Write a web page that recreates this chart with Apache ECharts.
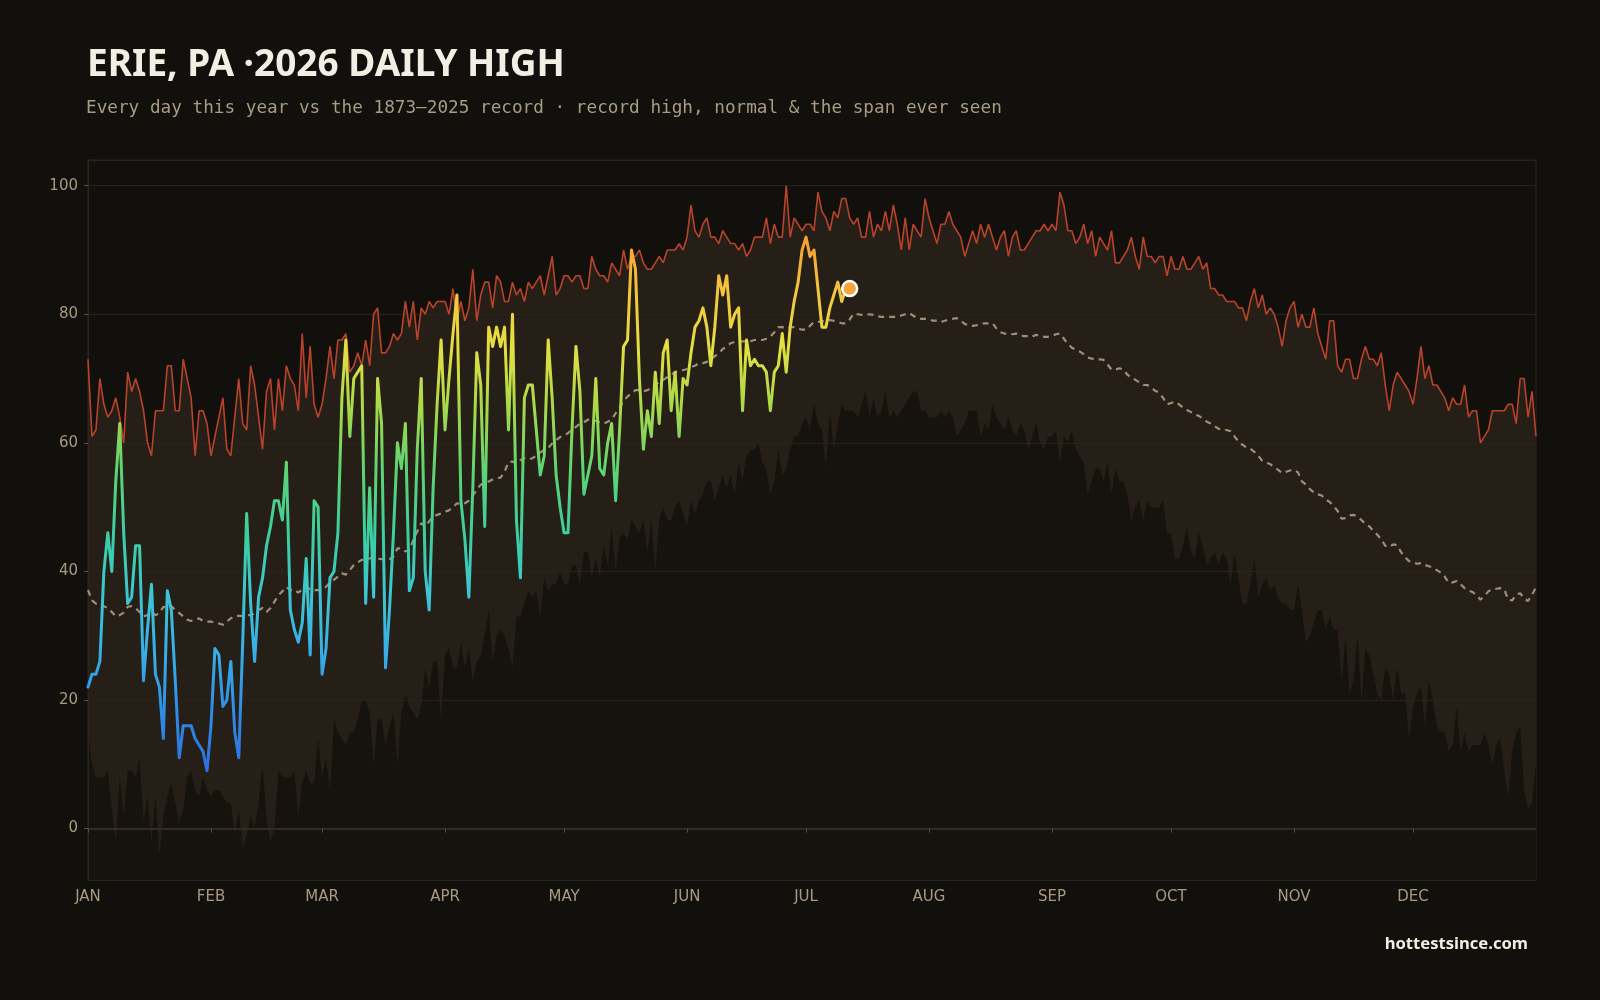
<!DOCTYPE html>
<html>
<head>
<meta charset="utf-8">
<title>Erie, PA 2026 daily high</title>
<script src="https://cdn.jsdelivr.net/npm/echarts@6.0.0/dist/echarts.min.js"></script>
<style>
  html, body { margin: 0; padding: 0; background: #12100c; }
  #chart { width: 1600px; height: 1000px; }
</style>
</head>
<body>
<div id="chart"></div>
<script>
// month labels on the x axis, placed at the first day of each month
const monthNames = ['JAN', 'FEB', 'MAR', 'APR', 'MAY', 'JUN', 'JUL', 'AUG', 'SEP', 'OCT', 'NOV', 'DEC']
const monthStarts = [0, 31, 59, 90, 120, 151, 181, 212, 243, 273, 304, 334]

// record high for each day of the year (1873-2025), day 0 = Jan 1
const recordHigh = [
  73, 61, 62, 70, 66, 64, 65, 67, 64, 60,
  71, 68, 70, 68, 65, 60, 58, 65, 65, 65,
  72, 72, 65, 65, 73, 70, 67, 58, 65, 65,
  63, 58, 61, 64, 67, 59, 58, 64, 70, 63,
  62, 72, 69, 64, 59, 68, 70, 62, 70, 65,
  72, 70, 69, 65, 77, 67, 75, 66, 64, 66,
  70, 75, 70, 76, 76, 77, 71, 72, 74, 72,
  76, 72, 80, 81, 74, 74, 75, 77, 76, 77,
  82, 78, 82, 76, 81, 80, 82, 81, 82, 82,
  82, 80, 84, 79, 82, 79, 81, 87, 79, 83,
  85, 85, 81, 86, 85, 82, 82, 85, 83, 84,
  82, 85, 84, 85, 86, 83, 86, 89, 83, 84,
  86, 86, 85, 86, 86, 84, 84, 89, 87, 86,
  86, 85, 88, 87, 86, 90, 87, 89, 89, 90,
  88, 87, 87, 88, 89, 88, 90, 90, 90, 91,
  90, 92, 97, 93, 92, 94, 95, 92, 92, 91,
  93, 92, 91, 91, 90, 91, 89, 90, 92, 92,
  92, 95, 91, 94, 92, 92, 100, 92, 95, 94,
  93, 94, 94, 93, 99, 96, 95, 93, 96, 95,
  98, 98, 95, 94, 95, 92, 92, 96, 92, 94,
  93, 96, 93, 97, 94, 90, 95, 90, 94, 93,
  92, 98, 95, 93, 91, 94, 94, 96, 94, 93,
  92, 89, 91, 93, 91, 94, 92, 94, 92, 90,
  92, 93, 89, 92, 93, 90, 90, 91, 92, 93,
  93, 94, 93, 94, 93, 99, 97, 93, 93, 91,
  92, 94, 91, 93, 89, 92, 91, 90, 93, 88,
  88, 89, 90, 92, 89, 87, 92, 89, 89, 88,
  89, 89, 86, 89, 87, 87, 89, 87, 87, 88,
  89, 87, 88, 84, 84, 83, 83, 82, 82, 82,
  81, 81, 79, 82, 84, 81, 83, 80, 81, 80,
  78, 75, 79, 81, 82, 78, 80, 78, 78, 81,
  77, 75, 73, 79, 79, 72, 71, 73, 73, 70,
  70, 73, 75, 73, 73, 72, 74, 69, 65, 69,
  71, 70, 69, 68, 66, 70, 75, 70, 72, 69,
  69, 68, 67, 65, 67, 66, 66, 69, 64, 65,
  65, 60, 61, 62, 65, 65, 65, 65, 66, 66,
  63, 70, 70, 64, 68, 61
]

// lowest daily high ever seen
const recordLow = [
  15, 10, 8, 8, 8, 9, 3, -2, 8, 2,
  9, 9, 8, 11, 1, 5, -2, 5, -4, 2,
  5, 7, 4, 1, 3, 8, 9, 6, 5, 8,
  6, 5, 6, 6, 5, 4, 4, -1, 3, -3,
  -1, 2, 0, 4, 10, 1, -2, 0, 9, 8,
  8, 8, 9, 2, 7, 9, 7, 7, 14, 8,
  11, 6, 17, 15, 14, 13, 15, 15, 17, 20,
  20, 18, 10, 17, 17, 13, 16, 18, 10, 18,
  21, 19, 18, 17, 19, 25, 22, 26, 26, 17,
  27, 28, 25, 25, 29, 25, 28, 23, 26, 27,
  30, 34, 26, 30, 31, 30, 28, 25, 33, 33,
  35, 37, 36, 37, 33, 39, 37, 38, 38, 40,
  38, 38, 41, 41, 38, 43, 43, 39, 42, 39,
  44, 41, 47, 40, 45, 46, 45, 48, 47, 46,
  48, 43, 48, 40, 48, 50, 48, 48, 50, 51,
  49, 47, 51, 49, 51, 52, 54, 54, 51, 53,
  55, 53, 55, 52, 57, 54, 58, 59, 59, 60,
  57, 56, 52, 54, 59, 55, 56, 59, 61, 61,
  63, 64, 62, 66, 63, 62, 56, 65, 59, 63,
  66, 65, 65, 65, 64, 66, 68, 64, 67, 64,
  65, 68, 64, 65, 64, 65, 66, 67, 68, 68,
  65, 65, 64, 64, 64, 65, 64, 65, 64, 61,
  62, 63, 65, 65, 65, 61, 63, 62, 66, 64,
  63, 62, 64, 62, 61, 63, 62, 59, 61, 63,
  60, 59, 61, 61, 62, 57, 61, 60, 62, 59,
  58, 57, 52, 54, 56, 56, 54, 57, 52, 56,
  54, 54, 52, 48, 50, 51, 48, 51, 50, 50,
  50, 51, 46, 46, 42, 42, 44, 47, 43, 42,
  46, 44, 41, 42, 43, 41, 43, 42, 38, 43,
  39, 35, 35, 38, 42, 36, 38, 39, 37, 38,
  36, 35, 35, 34, 34, 38, 34, 29, 30, 32,
  34, 34, 31, 33, 31, 31, 23, 30, 21, 23,
  30, 20, 28, 27, 24, 21, 20, 25, 24, 20,
  25, 21, 21, 14, 19, 21, 22, 16, 23, 20,
  16, 15, 15, 12, 13, 19, 12, 15, 12, 13,
  13, 13, 15, 13, 10, 13, 14, 9, 5, 12,
  15, 16, 6, 3, 4, 10
]

// normal daily high
const normalHigh = [
  37.1, 35.5, 35, 35, 34.6, 34.3, 33.7, 33, 33.2, 33.6,
  34.5, 34.6, 34.3, 33.7, 33, 33.2, 33.7, 33.2, 33.5, 34.5,
  34.3, 34.6, 34, 33.5, 33, 32.5, 32.3, 32.5, 32.7, 32.3,
  32.2, 32.2, 32, 31.9, 31.7, 32.2, 32.7, 33, 33.1, 33.1,
  33.2, 33.2, 33.5, 34, 34.3, 33.7, 34.3, 35.3, 36.3, 36.9,
  37.6, 37.1, 37.2, 36.7, 37.2, 36.9, 37.4, 37.1, 37.1, 37.2,
  37.6, 38.3, 38.7, 39.2, 39.7, 39.5, 40.2, 41, 41.4, 41.8,
  41.8, 42, 42.3, 42, 41.9, 42, 41.9, 42.3, 43.6, 43.6,
  43.1, 43.3, 44.9, 46.2, 47.5, 47, 47.8, 48.5, 48.8, 49,
  49.3, 49.5, 50, 50.6, 50.4, 50.6, 51, 51.8, 52.7, 53.5,
  53.7, 54, 54.3, 54.5, 54.6, 55.5, 57, 57.1, 56.8, 57.3,
  57.6, 57.4, 57.6, 58, 58.5, 58.9, 59.2, 59.9, 60.4, 60.9,
  61.2, 61.5, 62, 62.5, 63, 63.2, 63.6, 63.6, 63.4, 63.2,
  63, 63.3, 63.6, 64.6, 65.5, 66.5, 67.2, 67.7, 68.2, 68.2,
  68, 68.2, 68.5, 69, 69.5, 69.8, 70.2, 70.6, 71, 71.3,
  71.3, 71.5, 71.8, 72, 72.4, 72.4, 72.6, 73, 73.5, 73.9,
  74.6, 75, 75.5, 75.7, 75.7, 75.8, 75.8, 75.8, 76, 76,
  76, 76.2, 76.5, 77.2, 78, 78, 77.8, 78, 78, 77.8,
  77.6, 77.6, 78.2, 78.8, 78.8, 78.9, 79, 79.1, 79, 78.8,
  78.6, 78.6, 79.2, 80.1, 80, 79.9, 79.9, 80, 79.9, 79.7,
  79.6, 79.6, 79.6, 79.6, 79.6, 79.8, 80, 80.2, 79.8, 79.4,
  79.3, 79.3, 79.2, 79, 79, 78.8, 79, 79.2, 79.3, 79.4,
  79, 78.5, 78.3, 78.2, 78.3, 78.5, 78.6, 78.6, 78.6, 77.8,
  77.2, 77, 77, 76.9, 77, 76.7, 76.6, 76.6, 76.5, 76.8,
  76.6, 76.5, 76.5, 76.6, 76.9, 77, 76.2, 75.4, 74.8, 74.5,
  74.2, 73.8, 73.3, 73.1, 73, 73, 72.9, 72.2, 71.4, 71.4,
  71.6, 71.4, 70.6, 70.1, 69.8, 69.4, 69, 69, 68.6, 68.1,
  67.8, 67, 66, 66.2, 66.4, 66, 65.5, 65.1, 64.8, 64.4,
  64.2, 63.8, 63.3, 63, 62.6, 62.2, 62, 62, 61.8, 61,
  60.2, 59.7, 59.3, 59.1, 58.6, 58, 57.2, 56.9, 56.7, 56.2,
  55.8, 55.3, 55.5, 55.7, 55.8, 55.4, 54, 53.5, 52.8, 52.3,
  52, 51.8, 51.2, 50.8, 50.2, 49.4, 48.2, 48.3, 48.7, 48.8,
  48.5, 48, 47.4, 47, 46.3, 45.7, 45, 44, 43.8, 44.2,
  44.1, 43, 42.2, 41.6, 41.4, 41.2, 41.3, 41, 40.8, 40.6,
  40.2, 39.8, 39.2, 38.2, 38.3, 38.5, 38, 37.4, 37, 36.8,
  36.3, 35.6, 36.2, 36.9, 37.2, 37.3, 37.4, 37.2, 35.6, 35.5,
  36.4, 36.6, 35.8, 35.4, 36.4, 37.5
]

// 2026 so far (Jan 1 - Jul 12)
const daily2026 = [
  22, 24, 24, 26, 40, 46, 40, 54, 63, 46,
  35, 36, 44, 44, 23, 31, 38, 24, 22, 14,
  37, 34, 23, 11, 16, 16, 16, 14, 13, 12,
  9, 16, 28, 27, 19, 20, 26, 15, 11, 29,
  49, 35, 26, 36, 39, 44, 47, 51, 51, 48,
  57, 34, 31, 29, 32, 42, 27, 51, 50, 24,
  28, 39, 40, 46, 67, 76, 61, 70, 71, 72,
  35, 53, 36, 70, 63, 25, 34, 46, 60, 56,
  63, 37, 39, 59, 70, 40, 34, 53, 66, 76,
  62, 70, 77, 83, 51, 45, 36, 53, 74, 69,
  47, 78, 75, 78, 75, 78, 62, 80, 48, 39,
  67, 69, 69, 62, 55, 58, 76, 67, 55, 50,
  46, 46, 62, 75, 68, 52, 55, 58, 70, 56,
  55, 60, 63, 51, 62, 75, 76, 90, 87, 70,
  59, 65, 61, 71, 63, 74, 76, 65, 71, 61,
  70, 69, 74, 78, 79, 81, 78, 72, 78, 86,
  83, 86, 78, 80, 81, 65, 76, 72, 73, 72,
  72, 71, 65, 71, 72, 77, 71, 78, 82, 85,
  90, 92, 89, 90, 84, 78, 78, 81, 83, 85,
  82, 84, 84
]

// one category per day, the last one closes the axis at Jan 1 of the next year
const dayIndex = recordHigh.map((v, i) => String(i))
const isMonthStart = (idx) => monthStarts.indexOf(idx) >= 0
const lastDay = daily2026.length - 1

const chart = echarts.init(document.getElementById('chart'))
chart.setOption({
  backgroundColor: '#12100c',
  animation: false,
  title: [
    {
      text: 'ERIE, PA ·2026 DAILY HIGH',
      left: 87,
      top: 47,
      padding: 0,
      textStyle: { color: '#f3eee4', fontSize: 37, fontWeight: 'bold', fontFamily: 'Noto Sans' }
    },
    {
      text: 'Every day this year vs the 1873–2025 record · record high, normal & the span ever seen',
      left: 86,
      top: 99,
      padding: 0,
      textStyle: { color: '#a89c84', fontSize: 17.7, fontWeight: 'normal', fontFamily: 'DejaVu Sans Mono' }
    },
    {
      text: 'hottestsince.com',
      right: 72,
      top: 936,
      padding: 0,
      textStyle: { color: '#f3eee4', fontSize: 16.6, fontWeight: 'bold', fontFamily: 'Noto Sans' }
    }
  ],
  grid: {
    left: 88,
    right: 64,
    top: 160,
    bottom: 120,
    show: true,
    borderColor: '#2c251c',
    borderWidth: 1,
    backgroundColor: 'transparent'
  },
  visualMap: {
    type: 'continuous',
    show: false,
    seriesIndex: 4,
    min: 8,
    max: 94,
    inRange: {
      color: ['#2b6fdc', '#2f8ae6', '#36aee8', '#3cc6d2', '#3ccf9e', '#5cd472', '#a6d94a', '#e4e040', '#f5c23c', '#f5952f']
    }
  },
  xAxis: {
    type: 'category',
    boundaryGap: false,
    data: dayIndex,
    z: 3,
    axisLine: { lineStyle: { color: '#3a3227', width: 1.5 } },
    axisTick: { show: true, interval: isMonthStart, length: 4, lineStyle: { color: '#5a4f3e' } },
    axisLabel: {
      interval: isMonthStart,
      margin: 10,
      color: '#a89a80',
      fontSize: 15,
      fontFamily: 'DejaVu Sans',
      formatter: (value) => monthNames[monthStarts.indexOf(Number(value))] || ''
    },
    splitLine: { show: false }
  },
  yAxis: {
    type: 'value',
    min: -8,
    max: 104,
    splitNumber: 5,
    z: 3,
    axisLine: { show: true, lineStyle: { color: '#2c251c' } },
    axisTick: { show: true, length: 4, lineStyle: { color: '#5a4f3e' } },
    axisLabel: {
      showMinLabel: false,
      showMaxLabel: false,
      margin: 10,
      color: '#a89a80',
      fontSize: 15,
      fontFamily: 'DejaVu Sans'
    },
    splitLine: { lineStyle: { color: '#2a231b', width: 1 } }
  },
  series: [
    {
      // span ever seen: fill from the bottom up to the record high
      name: 'span',
      type: 'line',
      data: recordHigh,
      symbol: 'none',
      z: 1,
      lineStyle: { width: 0 },
      areaStyle: { color: '#261f17', origin: 'start', opacity: 1 }
    },
    {
      // below the record low goes dark again
      name: 'below record',
      type: 'line',
      data: recordLow,
      symbol: 'none',
      z: 2,
      lineStyle: { width: 0 },
      areaStyle: { color: '#16130f', origin: 'start', opacity: 1 }
    },
    {
      name: 'record high',
      type: 'line',
      data: recordHigh,
      symbol: 'none',
      z: 5,
      lineStyle: { color: '#b9432a', width: 1.6 }
    },
    {
      name: 'normal',
      type: 'line',
      data: normalHigh,
      symbol: 'none',
      z: 5,
      lineStyle: { color: '#9c9078', width: 2.2, type: [6, 5] }
    },
    {
      name: '2026',
      type: 'line',
      data: daily2026,
      symbol: 'none',
      z: 6,
      lineStyle: { width: 3, join: 'round', cap: 'round' }
    },
    {
      name: 'latest',
      type: 'scatter',
      data: [[lastDay, daily2026[lastDay]]],
      symbolSize: 15,
      z: 7,
      itemStyle: { color: '#f5a53c', borderColor: '#ffffff', borderWidth: 2.5, opacity: 1 }
    }
  ]
})
</script>
</body>
</html>
